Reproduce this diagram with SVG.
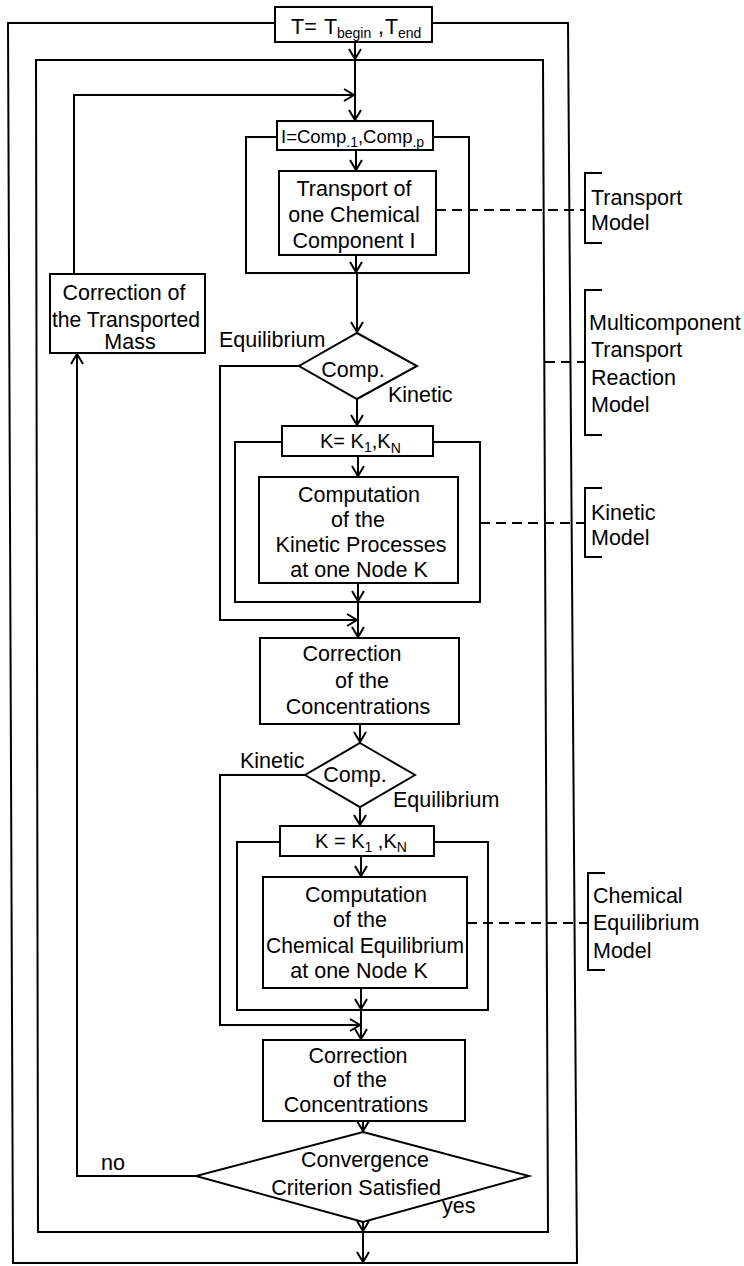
<svg xmlns="http://www.w3.org/2000/svg" width="744" height="1266" viewBox="0 0 744 1266">
<style>
.ln{fill:none;stroke:#000;stroke-width:2;stroke-linejoin:miter}
.ar{fill:none;stroke:#000;stroke-width:2;marker-end:url(#arr)}
.dash{fill:none;stroke:#000;stroke-width:2;stroke-dasharray:10 6}
.box{fill:#fff;stroke:#000;stroke-width:2}
text{font-family:"Liberation Sans",Arial,sans-serif;font-size:21.5px;fill:#000}
.m{text-anchor:middle}
.sub{font-size:14px}
</style>
<defs>
<marker id="arr" viewBox="-12 -8 14 16" markerWidth="14" markerHeight="16" refX="0" refY="0" orient="auto" markerUnits="userSpaceOnUse">
<path d="M-10,-6 L0,0 L-10,6" fill="none" stroke="#000" stroke-width="2"/>
</marker>
</defs>
<rect width="744" height="1266" fill="#fff"/>

<g id="connectors">
<!-- outer time loop frame -->
<path class="ln" d="M275,23 H8 L13,1263 H577 L568,23 H432"/>
<!-- inner iteration frame -->
<path class="ln" d="M36,60 H543 L548,1232 H38 Z"/>
<!-- component loop frame -->
<path class="ln" d="M277,137 H246 V273 H469 V137 H433"/>
<!-- kinetic node loop frame -->
<path class="ln" d="M282,442 H235 V602 H480 V442 H433"/>
<!-- equilibrium node loop frame -->
<path class="ln" d="M280,842 H237 V1010 H488 V842 H434"/>
<!-- main flow -->
<path class="ar" d="M355,42 V59"/>
<path class="ar" d="M355,60 V120"/>
<path class="ar" d="M356,150 V170"/>
<path class="ar" d="M356,255 V272"/>
<path class="ar" d="M357,273 V332"/>
<path class="ar" d="M357,399 V425"/>
<path class="ar" d="M358,456 V476"/>
<path class="ar" d="M358,583 V601"/>
<path class="ar" d="M358,602 V637"/>
<path class="ar" d="M360,724 V742"/>
<path class="ar" d="M360,807 V825"/>
<path class="ar" d="M361,856 V876"/>
<path class="ar" d="M361,988 V1009"/>
<path class="ar" d="M361,1010 V1039"/>
<path class="ar" d="M363,1121 V1131"/>
<path class="ar" d="M363,1222 V1231"/>
<path class="ar" d="M363,1232 V1262"/>
<!-- loop back to component loop -->
<path class="ar" d="M74,274 V95 H354"/>
<!-- equilibrium branch of first decision -->
<path class="ar" d="M299,366 H220 V620 H357"/>
<!-- kinetic branch of second decision -->
<path class="ar" d="M305,775 H220 V1025 H360"/>
<!-- no branch of convergence -->
<path class="ar" d="M196,1176 H77 V354"/>
<!-- dashed links to model brackets -->
<path class="dash" d="M436,210 H585"/>
<path class="dash" d="M545,362 H585"/>
<path class="dash" d="M480,523 H585"/>
<path class="dash" d="M467,923 H588"/>
</g>

<g id="node-time-loop">
<rect class="box" x="275" y="7" width="157" height="35"/>
<text y="34"><tspan x="291">T=</tspan><tspan x="324">T</tspan><tspan class="sub" x="337" y="38">begin</tspan><tspan x="378" y="34">,</tspan><tspan x="385">T</tspan><tspan class="sub" x="398" y="38">end</tspan></text>
</g>

<g id="node-component-loop">
<rect class="box" x="277" y="121" width="156" height="29"/>
<text y="143" style="font-size:18.5px"><tspan x="281">I=Comp</tspan><tspan class="sub" y="147">.1</tspan><tspan y="143">,Comp</tspan><tspan class="sub" y="147">.p</tspan></text>
</g>

<g id="node-transport">
<rect class="box" x="279" y="171" width="157" height="84"/>
<text class="m" x="354" y="196">Transport of</text>
<text class="m" x="354" y="222">one Chemical</text>
<text class="m" x="354" y="248">Component I</text>
</g>

<g id="node-correction-mass">
<rect class="box" x="50" y="274" width="155" height="79"/>
<text class="m" x="124" y="300">Correction of</text>
<text class="m" x="126" y="327" textLength="148" lengthAdjust="spacingAndGlyphs">the Transported</text>
<text class="m" x="130" y="349">Mass</text>
</g>

<g id="node-decision-1">
<path class="box" d="M357,333 L417,366 L357,399 L299,366 Z"/>
<text class="m" x="353" y="377">Comp.</text>
<text x="219" y="347">Equilibrium</text>
<text x="388" y="402">Kinetic</text>
</g>

<g id="node-kinetic-loop">
<rect class="box" x="282" y="426" width="151" height="30"/>
<text y="448" style="font-size:20px"><tspan x="320">K= K</tspan><tspan class="sub" y="452">1</tspan><tspan y="448">,K</tspan><tspan class="sub" y="453">N</tspan></text>
</g>

<g id="node-kinetic-computation">
<rect class="box" x="259" y="477" width="199" height="106"/>
<text class="m" x="359" y="502">Computation</text>
<text class="m" x="358" y="527">of the</text>
<text class="m" x="361" y="552">Kinetic Processes</text>
<text class="m" x="359" y="577">at one Node K</text>
</g>

<g id="node-correction-1">
<rect class="box" x="260" y="638" width="199" height="86"/>
<text class="m" x="352" y="661">Correction</text>
<text class="m" x="362" y="688">of the</text>
<text class="m" x="358" y="714">Concentrations</text>
</g>

<g id="node-decision-2">
<path class="box" d="M360,743 L415,775 L360,807 L305,775 Z"/>
<text class="m" x="355" y="782">Comp.</text>
<text x="240" y="768">Kinetic</text>
<text x="393" y="807">Equilibrium</text>
</g>

<g id="node-equilibrium-loop">
<rect class="box" x="280" y="826" width="154" height="30"/>
<text y="848" style="font-size:20px"><tspan x="315">K = K</tspan><tspan class="sub" y="852">1</tspan><tspan y="848"> ,K</tspan><tspan class="sub" y="852">N</tspan></text>
</g>

<g id="node-equilibrium-computation">
<rect class="box" x="263" y="877" width="204" height="111"/>
<text class="m" x="366" y="902">Computation</text>
<text class="m" x="360" y="927">of the</text>
<text class="m" x="365" y="953" textLength="198" lengthAdjust="spacingAndGlyphs">Chemical Equilibrium</text>
<text class="m" x="359" y="978">at one Node K</text>
</g>

<g id="node-correction-2">
<rect class="box" x="263" y="1040" width="202" height="81"/>
<text class="m" x="358" y="1063">Correction</text>
<text class="m" x="360" y="1087">of the</text>
<text class="m" x="356" y="1112">Concentrations</text>
</g>

<g id="node-convergence">
<path class="box" d="M363,1132 L529,1176 L363,1222 L196,1176 Z"/>
<text class="m" x="365" y="1167">Convergence</text>
<text class="m" x="356" y="1195">Criterion Satisfied</text>
<text x="101" y="1170">no</text>
<text x="442" y="1213">yes</text>
</g>

<g id="label-transport-model">
<path class="ln" d="M602,173 H585 V243 H602"/>
<text x="591" y="205">Transport</text>
<text x="591" y="230">Model</text>
</g>

<g id="label-multicomponent-model">
<path class="ln" d="M602,290 H585 V435 H602"/>
<text x="589" y="330">Multicomponent</text>
<text x="591" y="357">Transport</text>
<text x="591" y="385">Reaction</text>
<text x="591" y="412">Model</text>
</g>

<g id="label-kinetic-model">
<path class="ln" d="M602,488 H585 V557 H602"/>
<text x="591" y="520">Kinetic</text>
<text x="591" y="545">Model</text>
</g>

<g id="label-equilibrium-model">
<path class="ln" d="M605,873 H588 V970 H605"/>
<text x="593" y="903">Chemical</text>
<text x="593" y="930">Equilibrium</text>
<text x="593" y="958">Model</text>
</g>
</svg>
